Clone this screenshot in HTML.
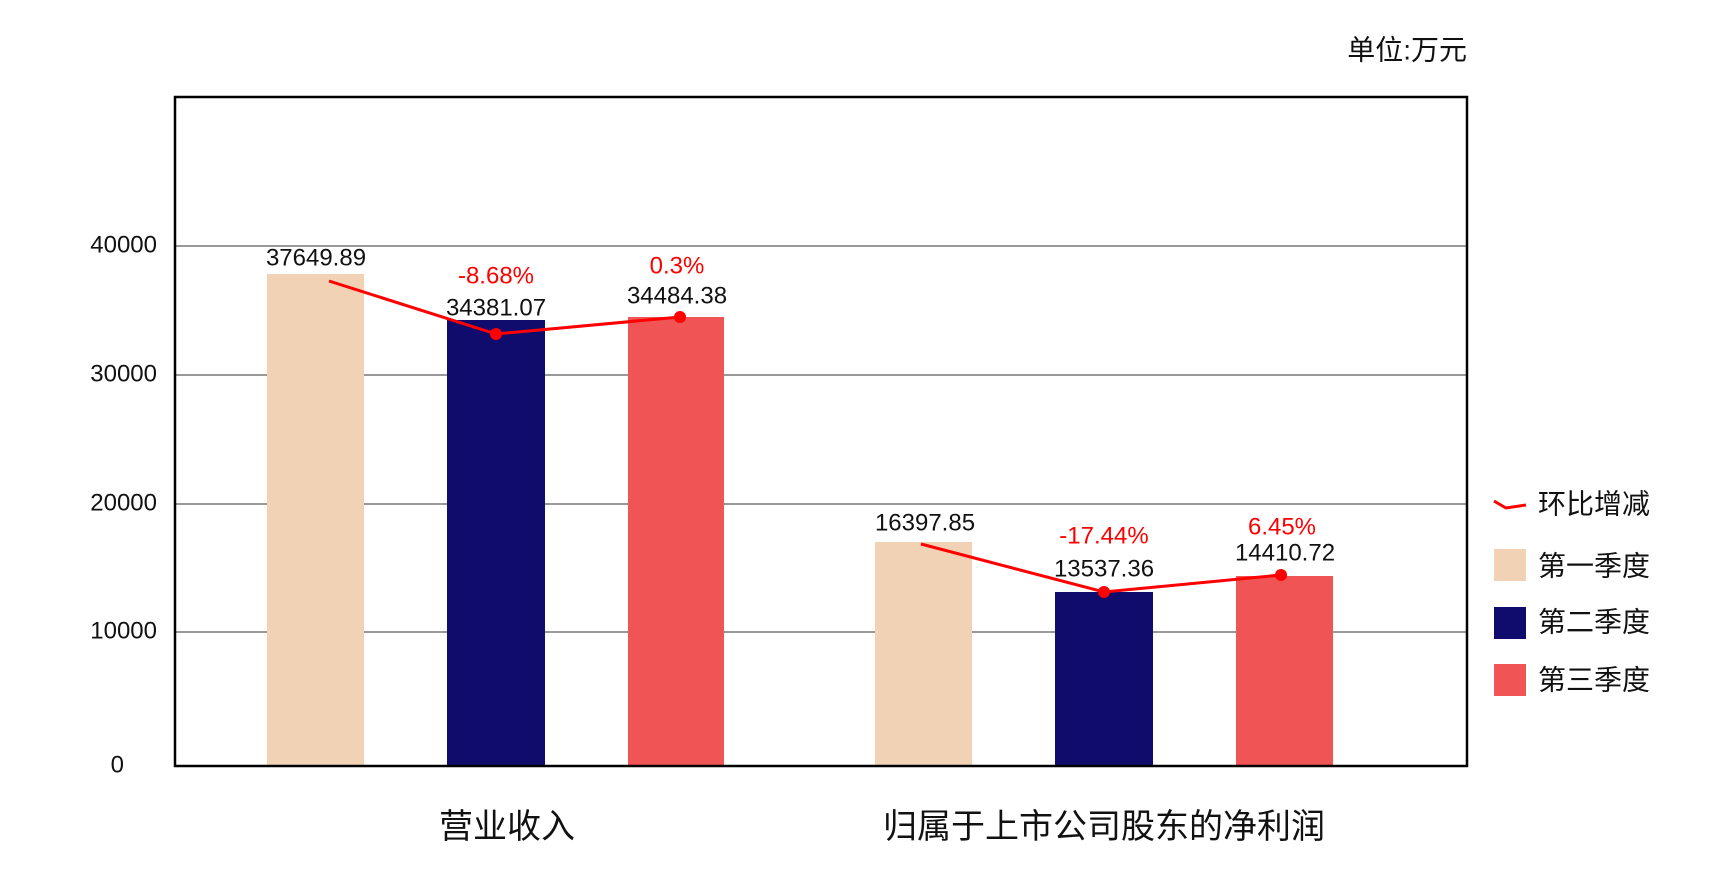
<!DOCTYPE html>
<html><head><meta charset="utf-8"><style>body{margin:0;background:#fff}</style></head><body>
<svg width="1735" height="879" xmlns="http://www.w3.org/2000/svg" font-family="'Liberation Sans','Noto Sans CJK SC',sans-serif">
<rect width="1735" height="879" fill="#fff"/>
<g stroke="#333" stroke-width="1">
<line x1="175" y1="246" x2="1467" y2="246"/>
<line x1="175" y1="375" x2="1467" y2="375"/>
<line x1="175" y1="504" x2="1467" y2="504"/>
<line x1="175" y1="632" x2="1467" y2="632"/>
</g>
<g>
<rect x="267" y="274" width="97" height="492" fill="#F2D2B5"/>
<rect x="447" y="320" width="98" height="446" fill="#100C6E"/>
<rect x="628" y="317" width="96" height="449" fill="#F05454"/>
<rect x="875" y="542" width="97" height="224" fill="#F2D2B5"/>
<rect x="1055" y="592" width="98" height="174" fill="#100C6E"/>
<rect x="1236" y="576" width="97" height="190" fill="#F05454"/>
</g>
<rect x="175" y="97" width="1292" height="669" fill="none" stroke="#000" stroke-width="2.5"/>
<g stroke="#f00" stroke-width="3" fill="none">
<polyline points="329,281 496,334 680,317"/>
<polyline points="921,544 1104,592 1281,575"/>
</g>
<g fill="#f00">
<circle cx="496" cy="334" r="6"/><circle cx="680" cy="317" r="6"/>
<circle cx="1104" cy="592" r="6"/><circle cx="1281" cy="575" r="6"/>
</g>
<g font-size="24" text-anchor="end" fill="#111" dominant-baseline="central">
<text x="157" y="245">40000</text>
<text x="157" y="374">30000</text>
<text x="157" y="503">20000</text>
<text x="157" y="631">10000</text>
<text x="124" y="765">0</text>
</g>
<g font-size="24" text-anchor="middle" dominant-baseline="central" fill="#111">
<text x="316" y="258">37649.89</text>
<text x="496" y="308">34381.07</text>
<text x="677" y="296">34484.38</text>
<text x="925" y="523">16397.85</text>
<text x="1104" y="569">13537.36</text>
<text x="1285" y="553">14410.72</text>
<g fill="#f00">
<text x="496" y="276">-8.68%</text>
<text x="677" y="266">0.3%</text>
<text x="1104" y="536">-17.44%</text>
<text x="1282" y="527">6.45%</text>
</g>
</g>
<text x="1467" y="50" font-size="28" text-anchor="end" dominant-baseline="central" fill="#111">单位:万元</text>
<g font-size="34" text-anchor="middle" dominant-baseline="central" fill="#111">
<text x="507" y="827">营业收入</text>
<text x="1104" y="827">归属于上市公司股东的净利润</text>
</g>
<polyline points="1494,501 1506,508 1526,505" stroke="#f00" stroke-width="3" fill="none"/>
<rect x="1494" y="549" width="32" height="32" fill="#F2D2B5"/>
<rect x="1494" y="607" width="32" height="32" fill="#100C6E"/>
<rect x="1494" y="664" width="32" height="32" fill="#F05454"/>
<g font-size="28" dominant-baseline="central" fill="#111">
<text x="1538" y="504">环比增减</text>
<text x="1538" y="566">第一季度</text>
<text x="1538" y="622">第二季度</text>
<text x="1538" y="680">第三季度</text>
</g>
</svg>
</body></html>
